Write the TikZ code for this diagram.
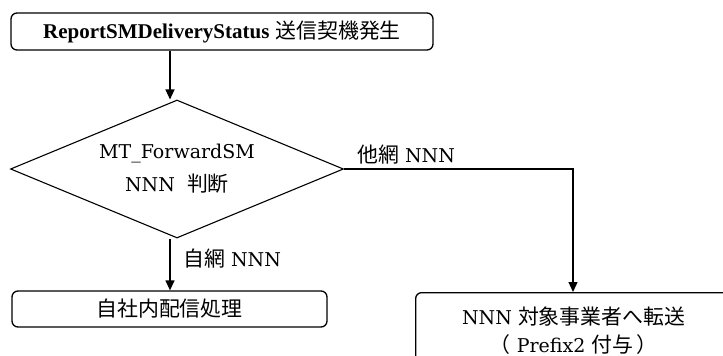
\documentclass[tikz,border=0pt]{standalone}
\usepackage{fontspec}
\setmainfont{DejaVu Serif}
\newfontfamily\jp[Scale=1.1]{Noto Sans CJK JP}
\newfontfamily\topfont{Liberation Serif}
\usetikzlibrary{arrows.meta,shapes.geometric}
\begin{document}
\begin{tikzpicture}[x=1pt,y=-1pt,
  box/.style={draw,line width=1.3pt,rounded corners=6pt,inner sep=0pt},
  arr/.style={line width=1.3pt,-{Triangle[length=10pt,width=9pt]}},
  txt/.style={font=\fontsize{19}{23}\selectfont},
  lbl/.style={inner sep=0pt,anchor=west,font=\fontsize{19}{23}\selectfont}]
\clip (0,0) rectangle (723,356);
\node[box,minimum width=422pt,minimum height=37pt,font=\fontsize{19}{20}\selectfont] (top) at (222,31.5)
  {{\fontsize{21}{20}\selectfont\topfont\bfseries ReportSMDeliveryStatus} {\jp 送信契機発生}};
\node[draw,line width=1.1pt,shape=diamond,inner sep=0pt,minimum width=333pt,minimum height=138pt,
  aspect=2.41,align=center,font=\fontsize{19}{33}\selectfont] (dia) at (177,169)
  {MT\_ForwardSM\\NNN\ \ {\jp 判断}};
\node[box,txt,minimum width=315pt,minimum height=36pt] (low) at (169.5,309) {\jp 自社内配信処理};
\node[box,minimum width=316pt,minimum height=76pt,align=center,anchor=north west,
  font=\fontsize{19}{28}\selectfont] (rgt) at (415,292)
  {NNN {\jp 対象事業者へ転送}\\{\jp （}\ Prefix2 {\jp 付与}\,{\jp ）}};
\coordinate (ax) at (170,0);
\coordinate (bend) at (573,169);
\draw[arr] (top.south -| ax) -- (dia.north -| ax);
\draw[arr] (dia.south -| ax) -- (low.north -| ax);
\draw[arr] (dia.east) -- (bend) -- (bend |- rgt.north);
\node[lbl] (l1) at (357,155) {{\jp 他網} NNN};
\node[lbl] (l2) at (183,259) {{\jp 自網} NNN};
\end{tikzpicture}
\end{document}
